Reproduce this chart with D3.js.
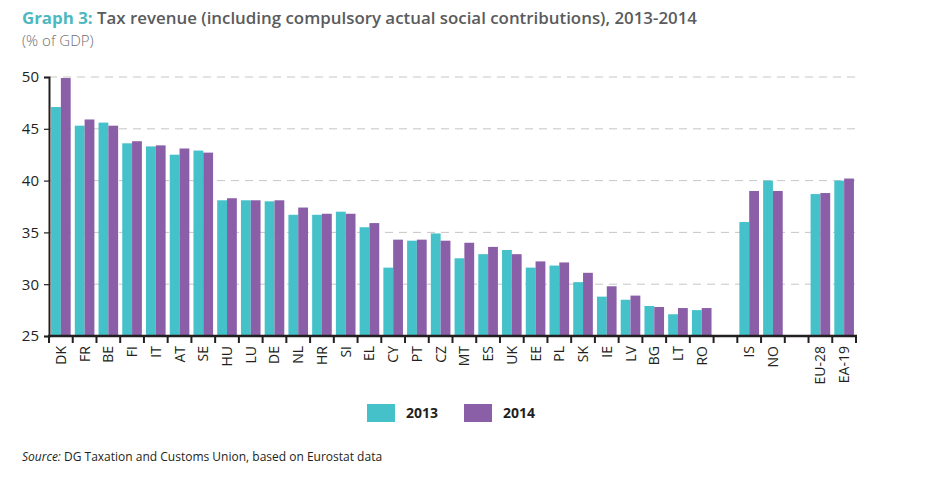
<!DOCTYPE html>
<html>
<head>
<meta charset="utf-8">
<script src="https://cdn.jsdelivr.net/npm/d3@7"></script>
<style>
  html, body { margin: 0; padding: 0; background: #fff; }
  svg { display: block; }
</style>
</head>
<body>
<svg id="chart" width="936" height="488"></svg>
<script>
// ---- data ----
const categories = ["DK","FR","BE","FI","IT","AT","SE","HU","LU","DE","NL","HR","SI","EL","CY","PT","CZ","MT","ES","UK","EE","PL","SK","IE","LV","BG","LT","RO","gap1","IS","NO","gap2","EU-28","EA-19"];
const values2013 = [47.1,45.3,45.6,43.6,43.3,42.5,42.9,38.1,38.1,38.0,36.7,36.7,37.0,35.5,31.6,34.2,34.9,32.5,32.9,33.3,31.6,31.8,30.2,28.8,28.5,27.9,27.1,27.5,null,36.0,40.0,null,38.7,40.0];
const values2014 = [49.9,45.9,45.3,43.8,43.4,43.1,42.7,38.3,38.1,38.1,37.4,36.8,36.8,35.9,34.3,34.3,34.2,34.0,33.6,32.9,32.2,32.1,31.1,29.8,28.9,27.8,27.7,27.7,null,39.0,39.0,null,38.8,40.2];
const series = ["2013","2014"];
const yTicks = [25,30,35,40,45,50];
const colors = ["#45c1c9","#8a5fa8"];

const svg = d3.select("#chart");
const pLeft = 49, pRight = 856, pTop = 77, pBottom = 336;

const x = d3.scaleBand().domain(categories).range([pLeft, pRight]).paddingInner(0).paddingOuter(0);
const x1 = d3.scaleBand().domain(series).range([0, x.bandwidth()]).paddingInner(0).paddingOuter(0.21);
const y = d3.scaleLinear().domain([25, 50]).range([pBottom, pTop]);

// gridlines
svg.append("g").selectAll("line").data(yTicks.filter(d => d > 25)).join("line")
  .attr("x1", pLeft).attr("x2", pRight)
  .attr("y1", d => y(d)).attr("y2", d => y(d))
  .attr("stroke", "#b8b8b8").attr("stroke-width", 0.8)
  .attr("stroke-dasharray", "8,6");

// bars
const rows = categories.map((c, i) => ({c, v: [values2013[i], values2014[i]]})).filter(d => d.v[0] != null);
const g = svg.append("g");
rows.forEach(r => {
  series.forEach((s, j) => {
    g.append("rect")
      .attr("x", x(r.c) + x1(s))
      .attr("y", y(r.v[j]))
      .attr("width", x1.bandwidth())
      .attr("height", y(25) - y(r.v[j]))
      .attr("fill", colors[j]);
  });
});

// y axis
const yAxis = d3.axisLeft(y).tickValues(yTicks).tickSize(5).tickPadding(5);
const ya = svg.append("g").attr("transform", `translate(${pLeft},0)`).call(yAxis);
ya.select(".domain").attr("stroke", "#231f20").attr("stroke-width", 2);
ya.selectAll(".tick line").attr("stroke", "#231f20").attr("stroke-width", 1.2);
ya.selectAll(".tick text").attr("font-family", "Open Sans, sans-serif").attr("font-size", 15).attr("fill", "#231f20");

// x axis baseline
svg.append("line").attr("x1", pLeft - 1).attr("x2", pRight + 1).attr("y1", pBottom).attr("y2", pBottom)
  .attr("stroke", "#231f20").attr("stroke-width", 2.5);
// x ticks at slot boundaries
const bounds = categories.map(c => x(c)).concat([pRight]);
svg.append("g").selectAll("line").data(bounds).join("line")
  .attr("x1", d => d).attr("x2", d => d).attr("y1", pBottom).attr("y2", pBottom + 7)
  .attr("stroke", "#231f20").attr("stroke-width", 2);
// x labels
svg.append("g").selectAll("text").data(categories.filter(c => !c.startsWith("gap"))).join("text")
  .attr("transform", c => `translate(${x(c) + x.bandwidth()/2 + 5},${pBottom + 10}) rotate(-90)`)
  .attr("text-anchor", "end")
  .attr("font-family", "Open Sans, sans-serif").attr("font-size", 14).attr("fill", "#231f20")
  .text(c => c);

// title
const title = svg.append("text").attr("x", 22).attr("y", 24)
  .attr("font-family", "Open Sans, sans-serif").attr("font-size", 16.5).attr("font-weight", 600)
  .attr("textLength", 675).attr("lengthAdjust", "spacingAndGlyphs");
title.append("tspan").attr("fill", "#4db8bd").attr("font-weight", 700).text("Graph 3:");
title.append("tspan").attr("fill", "#5a5b5d").text(" Tax revenue (including compulsory actual social contributions), 2013-2014");
svg.append("text").attr("x", 22).attr("y", 46)
  .attr("font-family", "Open Sans, sans-serif").attr("font-size", 15).attr("font-weight", 300)
  .attr("fill", "#6d6e70").text("(% of GDP)");

// legend
const legend = svg.append("g");
series.forEach((s, j) => {
  const lx = 367 + j * 97;
  legend.append("rect").attr("x", lx).attr("y", 404).attr("width", 28).attr("height", 18).attr("fill", colors[j]);
  legend.append("text").attr("x", lx + 39).attr("y", 418)
    .attr("font-family", "Open Sans, sans-serif").attr("font-size", 14).attr("font-weight", 700)
    .attr("fill", "#231f20").text(s);
});

// source
const src = svg.append("text").attr("x", 22).attr("y", 461)
  .attr("font-family", "Open Sans, sans-serif").attr("font-size", 12).attr("fill", "#231f20");
src.append("tspan").attr("font-style", "italic").text("Source:");
src.append("tspan").text(" DG Taxation and Customs Union, based on Eurostat data");
</script>
</body>
</html>
